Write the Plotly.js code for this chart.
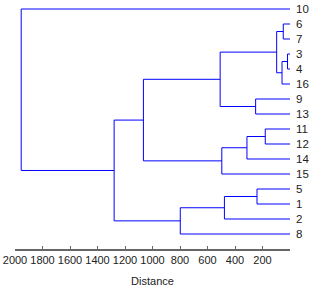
<!DOCTYPE html>
<html>
<head>
<meta charset="utf-8">
<script src="https://cdn.plot.ly/plotly-3.0.1.min.js"></script>
<style>html,body{margin:0;padding:0;background:#fff;}#chart{width:312px;height:289px;}</style>
</head>
<body>
<div id="chart"></div>
<script>
// Leaf labels, top to bottom
var leafLabels = ["10","6","7","3","4","16","9","13","11","12","14","15","5","1","2","8"];
// Merges: children (leaf label or node name) and merge distance
var mergeNames  = ["n1","n2","n3","n4","n5","n6","n7","n8","n9","n10","n11","n12","n13","n14","n15"];
var mergeLeft   = ["3","6","n1","n2","11","5","9","n5","n6","n8","n4","n9","n11","n13","10"];
var mergeRight  = ["4","7","16","n3","12","1","13","14","2","15","n7","8","n10","n12","n14"];
var mergeHeight = [18, 49, 58, 97, 180, 240, 250, 313, 477, 496, 508, 798, 1066, 1279, 1955];
var xTicks = [2000,1800,1600,1400,1200,1000,800,600,400,200];

var pos = {}, hgt = {};
leafLabels.forEach(function(l,i){ pos[l]=i; hgt[l]=0; });
var xs=[], ys=[];
for (var k=0;k<mergeNames.length;k++){
  var a=mergeLeft[k], b=mergeRight[k], h=mergeHeight[k];
  xs.push(hgt[a], h, h, hgt[b], null);
  ys.push(pos[a], pos[a], pos[b], pos[b], null);
  pos[mergeNames[k]] = (pos[a]+pos[b])/2;
  hgt[mergeNames[k]] = h;
}
var trace = {x:xs, y:ys, mode:'lines', type:'scatter', line:{color:'#0000ff', width:1}, hoverinfo:'skip'};
var layout = {
  width:312, height:289,
  margin:{l:14.7, r:21.8, t:0, b:39.5},
  paper_bgcolor:'#fff', plot_bgcolor:'#fff',
  showlegend:false,
  font:{family:'"Liberation Sans", Arial, sans-serif', size:11, color:'#333'},
  xaxis:{range:[2000,0], tickvals:xTicks, ticktext:xTicks.map(String), ticks:'inside', ticklen:3, tickcolor:'#666',
         showline:true, linecolor:'#666', linewidth:1.5, showgrid:false, zeroline:false,
         tickfont:{size:11, color:'#222'},
         title:{text:'Distance', font:{size:11, color:'#222'}, standoff:12}},
  yaxis:{range:[16,-0.6], tickvals:leafLabels.map(function(_,i){return i;}), ticktext:leafLabels, side:'right',
         ticks:'', ticklabelstandoff:5, showline:false, showgrid:false, zeroline:false, tickfont:{size:11.5, color:'#222'}}
};
Plotly.newPlot('chart',[trace],layout,{displayModeBar:false, staticPlot:true});
</script>
</body>
</html>
